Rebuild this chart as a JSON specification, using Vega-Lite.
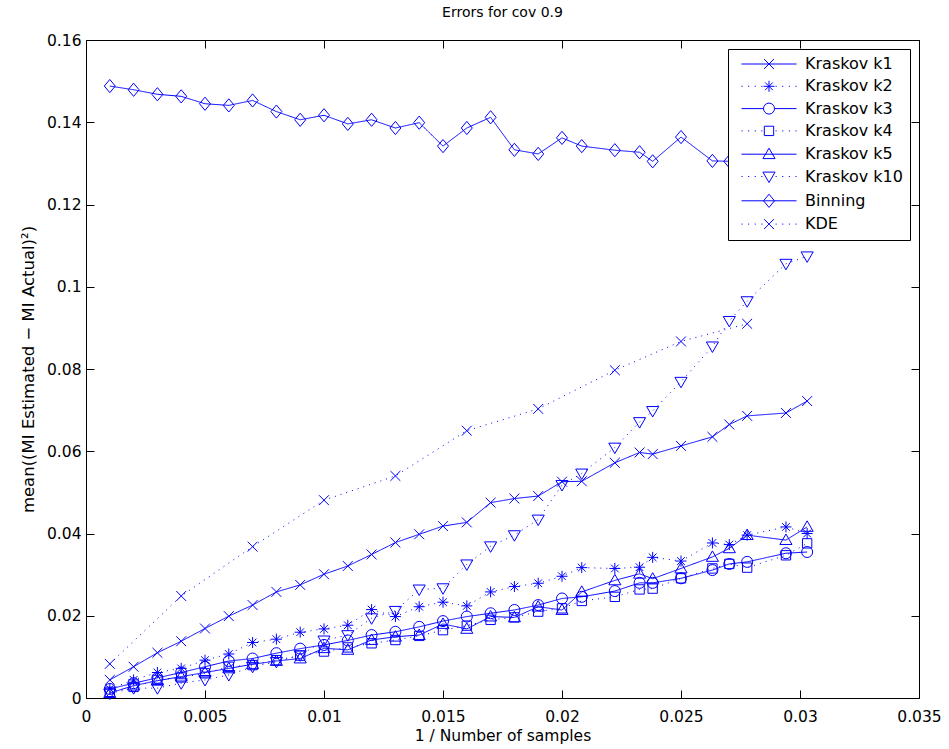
{
"$schema": "https://vega.github.io/schema/vega-lite/v6.json",
"width": 833, "height": 658,
"autosize": "none",
"padding": {"left": 86, "top": 40, "right": 30, "bottom": 51},
"background": "white",
"title": {"text": "Errors for cov 0.9", "font": "DejaVu Sans", "fontSize": 14, "fontWeight": "normal", "color": "black", "anchor": "middle", "frame": "group", "offset": 13},
"data": {"values": [
{"s":"Kraskov k1","x":0.001,"y":0.0044},{"s":"Kraskov k1","x":0.002,"y":0.0076},{"s":"Kraskov k1","x":0.003,"y":0.0110},{"s":"Kraskov k1","x":0.004,"y":0.0138},{"s":"Kraskov k1","x":0.005,"y":0.0169},{"s":"Kraskov k1","x":0.006,"y":0.0199},{"s":"Kraskov k1","x":0.007,"y":0.0226},{"s":"Kraskov k1","x":0.008,"y":0.0258},{"s":"Kraskov k1","x":0.009,"y":0.0275},{"s":"Kraskov k1","x":0.01,"y":0.0301},{"s":"Kraskov k1","x":0.011,"y":0.0321},{"s":"Kraskov k1","x":0.012,"y":0.0349},{"s":"Kraskov k1","x":0.013,"y":0.0378},{"s":"Kraskov k1","x":0.014,"y":0.0398},{"s":"Kraskov k1","x":0.015,"y":0.0418},{"s":"Kraskov k1","x":0.016,"y":0.0427},{"s":"Kraskov k1","x":0.017,"y":0.0475},{"s":"Kraskov k1","x":0.018,"y":0.0485},{"s":"Kraskov k1","x":0.019,"y":0.0491},{"s":"Kraskov k1","x":0.02,"y":0.0526},{"s":"Kraskov k1","x":0.02083,"y":0.0527},{"s":"Kraskov k1","x":0.02222,"y":0.0572},{"s":"Kraskov k1","x":0.02326,"y":0.0597},{"s":"Kraskov k1","x":0.02381,"y":0.0593},{"s":"Kraskov k1","x":0.025,"y":0.0613},{"s":"Kraskov k1","x":0.02632,"y":0.0635},{"s":"Kraskov k1","x":0.02703,"y":0.0665},{"s":"Kraskov k1","x":0.02778,"y":0.0686},{"s":"Kraskov k1","x":0.02941,"y":0.0693},{"s":"Kraskov k1","x":0.0303,"y":0.0722},
{"s":"Kraskov k2","x":0.001,"y":0.0022},{"s":"Kraskov k2","x":0.002,"y":0.0044},{"s":"Kraskov k2","x":0.003,"y":0.0062},{"s":"Kraskov k2","x":0.004,"y":0.0072},{"s":"Kraskov k2","x":0.005,"y":0.0092},{"s":"Kraskov k2","x":0.006,"y":0.0107},{"s":"Kraskov k2","x":0.007,"y":0.0135},{"s":"Kraskov k2","x":0.008,"y":0.0143},{"s":"Kraskov k2","x":0.009,"y":0.0160},{"s":"Kraskov k2","x":0.01,"y":0.0168},{"s":"Kraskov k2","x":0.011,"y":0.0177},{"s":"Kraskov k2","x":0.012,"y":0.0215},{"s":"Kraskov k2","x":0.013,"y":0.0198},{"s":"Kraskov k2","x":0.014,"y":0.0222},{"s":"Kraskov k2","x":0.015,"y":0.0233},{"s":"Kraskov k2","x":0.016,"y":0.0224},{"s":"Kraskov k2","x":0.017,"y":0.0258},{"s":"Kraskov k2","x":0.018,"y":0.0271},{"s":"Kraskov k2","x":0.019,"y":0.0279},{"s":"Kraskov k2","x":0.02,"y":0.0296},{"s":"Kraskov k2","x":0.02083,"y":0.0317},{"s":"Kraskov k2","x":0.02222,"y":0.0315},{"s":"Kraskov k2","x":0.02326,"y":0.0318},{"s":"Kraskov k2","x":0.02381,"y":0.0342},{"s":"Kraskov k2","x":0.025,"y":0.0333},{"s":"Kraskov k2","x":0.02632,"y":0.0377},{"s":"Kraskov k2","x":0.02703,"y":0.0373},{"s":"Kraskov k2","x":0.02778,"y":0.0396},{"s":"Kraskov k2","x":0.02941,"y":0.0416},{"s":"Kraskov k2","x":0.0303,"y":0.0400},
{"s":"Kraskov k3","x":0.001,"y":0.0022},{"s":"Kraskov k3","x":0.002,"y":0.0036},{"s":"Kraskov k3","x":0.003,"y":0.0049},{"s":"Kraskov k3","x":0.004,"y":0.0062},{"s":"Kraskov k3","x":0.005,"y":0.0076},{"s":"Kraskov k3","x":0.006,"y":0.0090},{"s":"Kraskov k3","x":0.007,"y":0.0096},{"s":"Kraskov k3","x":0.008,"y":0.0109},{"s":"Kraskov k3","x":0.009,"y":0.0120},{"s":"Kraskov k3","x":0.01,"y":0.0129},{"s":"Kraskov k3","x":0.011,"y":0.0140},{"s":"Kraskov k3","x":0.012,"y":0.0153},{"s":"Kraskov k3","x":0.013,"y":0.0161},{"s":"Kraskov k3","x":0.014,"y":0.0173},{"s":"Kraskov k3","x":0.015,"y":0.0187},{"s":"Kraskov k3","x":0.016,"y":0.0198},{"s":"Kraskov k3","x":0.017,"y":0.0206},{"s":"Kraskov k3","x":0.018,"y":0.0214},{"s":"Kraskov k3","x":0.019,"y":0.0226},{"s":"Kraskov k3","x":0.02,"y":0.0242},{"s":"Kraskov k3","x":0.02083,"y":0.0246},{"s":"Kraskov k3","x":0.02222,"y":0.0260},{"s":"Kraskov k3","x":0.02326,"y":0.0280},{"s":"Kraskov k3","x":0.02381,"y":0.0280},{"s":"Kraskov k3","x":0.025,"y":0.0291},{"s":"Kraskov k3","x":0.02632,"y":0.0311},{"s":"Kraskov k3","x":0.02703,"y":0.0326},{"s":"Kraskov k3","x":0.02778,"y":0.0331},{"s":"Kraskov k3","x":0.02941,"y":0.0352},{"s":"Kraskov k3","x":0.0303,"y":0.0355},
{"s":"Kraskov k4","x":0.001,"y":0.0015},{"s":"Kraskov k4","x":0.002,"y":0.0027},{"s":"Kraskov k4","x":0.003,"y":0.0044},{"s":"Kraskov k4","x":0.004,"y":0.0050},{"s":"Kraskov k4","x":0.005,"y":0.0060},{"s":"Kraskov k4","x":0.006,"y":0.0076},{"s":"Kraskov k4","x":0.007,"y":0.0080},{"s":"Kraskov k4","x":0.008,"y":0.0092},{"s":"Kraskov k4","x":0.009,"y":0.0103},{"s":"Kraskov k4","x":0.01,"y":0.0113},{"s":"Kraskov k4","x":0.011,"y":0.0123},{"s":"Kraskov k4","x":0.012,"y":0.0133},{"s":"Kraskov k4","x":0.013,"y":0.0141},{"s":"Kraskov k4","x":0.014,"y":0.0151},{"s":"Kraskov k4","x":0.015,"y":0.0165},{"s":"Kraskov k4","x":0.016,"y":0.0176},{"s":"Kraskov k4","x":0.017,"y":0.0190},{"s":"Kraskov k4","x":0.018,"y":0.0196},{"s":"Kraskov k4","x":0.019,"y":0.0210},{"s":"Kraskov k4","x":0.02,"y":0.0218},{"s":"Kraskov k4","x":0.02083,"y":0.0236},{"s":"Kraskov k4","x":0.02222,"y":0.0246},{"s":"Kraskov k4","x":0.02326,"y":0.0264},{"s":"Kraskov k4","x":0.02381,"y":0.0266},{"s":"Kraskov k4","x":0.025,"y":0.0291},{"s":"Kraskov k4","x":0.02632,"y":0.0315},{"s":"Kraskov k4","x":0.02703,"y":0.0326},{"s":"Kraskov k4","x":0.02778,"y":0.0317},{"s":"Kraskov k4","x":0.02941,"y":0.0347},{"s":"Kraskov k4","x":0.0303,"y":0.0376},
{"s":"Kraskov k5","x":0.001,"y":0.0012},{"s":"Kraskov k5","x":0.002,"y":0.0030},{"s":"Kraskov k5","x":0.003,"y":0.0042},{"s":"Kraskov k5","x":0.004,"y":0.0052},{"s":"Kraskov k5","x":0.005,"y":0.0062},{"s":"Kraskov k5","x":0.006,"y":0.0072},{"s":"Kraskov k5","x":0.007,"y":0.0082},{"s":"Kraskov k5","x":0.008,"y":0.0090},{"s":"Kraskov k5","x":0.009,"y":0.0096},{"s":"Kraskov k5","x":0.01,"y":0.0121},{"s":"Kraskov k5","x":0.011,"y":0.0117},{"s":"Kraskov k5","x":0.012,"y":0.0141},{"s":"Kraskov k5","x":0.013,"y":0.0149},{"s":"Kraskov k5","x":0.014,"y":0.0153},{"s":"Kraskov k5","x":0.015,"y":0.0180},{"s":"Kraskov k5","x":0.016,"y":0.0168},{"s":"Kraskov k5","x":0.017,"y":0.0198},{"s":"Kraskov k5","x":0.018,"y":0.0196},{"s":"Kraskov k5","x":0.019,"y":0.0222},{"s":"Kraskov k5","x":0.02,"y":0.0214},{"s":"Kraskov k5","x":0.02083,"y":0.0258},{"s":"Kraskov k5","x":0.02222,"y":0.0286},{"s":"Kraskov k5","x":0.02326,"y":0.0302},{"s":"Kraskov k5","x":0.02381,"y":0.0290},{"s":"Kraskov k5","x":0.025,"y":0.0315},{"s":"Kraskov k5","x":0.02632,"y":0.0343},{"s":"Kraskov k5","x":0.02703,"y":0.0364},{"s":"Kraskov k5","x":0.02778,"y":0.0396},{"s":"Kraskov k5","x":0.02941,"y":0.0384},{"s":"Kraskov k5","x":0.0303,"y":0.0416},
{"s":"Kraskov k10","x":0.001,"y":0.0011},{"s":"Kraskov k10","x":0.002,"y":0.0024},{"s":"Kraskov k10","x":0.003,"y":0.0024},{"s":"Kraskov k10","x":0.004,"y":0.0036},{"s":"Kraskov k10","x":0.005,"y":0.0044},{"s":"Kraskov k10","x":0.006,"y":0.0056},{"s":"Kraskov k10","x":0.007,"y":0.0076},{"s":"Kraskov k10","x":0.008,"y":0.0088},{"s":"Kraskov k10","x":0.009,"y":0.0104},{"s":"Kraskov k10","x":0.01,"y":0.0140},{"s":"Kraskov k10","x":0.011,"y":0.0153},{"s":"Kraskov k10","x":0.012,"y":0.0194},{"s":"Kraskov k10","x":0.013,"y":0.0212},{"s":"Kraskov k10","x":0.014,"y":0.0264},{"s":"Kraskov k10","x":0.015,"y":0.0267},{"s":"Kraskov k10","x":0.016,"y":0.0325},{"s":"Kraskov k10","x":0.017,"y":0.0369},{"s":"Kraskov k10","x":0.018,"y":0.0396},{"s":"Kraskov k10","x":0.019,"y":0.0434},{"s":"Kraskov k10","x":0.02,"y":0.0518},{"s":"Kraskov k10","x":0.02083,"y":0.0546},{"s":"Kraskov k10","x":0.02222,"y":0.0609},{"s":"Kraskov k10","x":0.02326,"y":0.0671},{"s":"Kraskov k10","x":0.02381,"y":0.0698},{"s":"Kraskov k10","x":0.025,"y":0.0769},{"s":"Kraskov k10","x":0.02632,"y":0.0855},{"s":"Kraskov k10","x":0.02703,"y":0.0917},{"s":"Kraskov k10","x":0.02778,"y":0.0965},{"s":"Kraskov k10","x":0.02941,"y":0.1056},{"s":"Kraskov k10","x":0.0303,"y":0.1074},
{"s":"Binning","x":0.001,"y":0.1488},{"s":"Binning","x":0.002,"y":0.1479},{"s":"Binning","x":0.003,"y":0.1468},{"s":"Binning","x":0.004,"y":0.1463},{"s":"Binning","x":0.005,"y":0.1445},{"s":"Binning","x":0.006,"y":0.1441},{"s":"Binning","x":0.007,"y":0.1453},{"s":"Binning","x":0.008,"y":0.1426},{"s":"Binning","x":0.009,"y":0.1406},{"s":"Binning","x":0.01,"y":0.1417},{"s":"Binning","x":0.011,"y":0.1396},{"s":"Binning","x":0.012,"y":0.1406},{"s":"Binning","x":0.013,"y":0.1386},{"s":"Binning","x":0.014,"y":0.1399},{"s":"Binning","x":0.015,"y":0.1342},{"s":"Binning","x":0.016,"y":0.1386},{"s":"Binning","x":0.017,"y":0.1412},{"s":"Binning","x":0.018,"y":0.1333},{"s":"Binning","x":0.019,"y":0.1323},{"s":"Binning","x":0.02,"y":0.1362},{"s":"Binning","x":0.02083,"y":0.1342},{"s":"Binning","x":0.02222,"y":0.1332},{"s":"Binning","x":0.02326,"y":0.1327},{"s":"Binning","x":0.02381,"y":0.1305},{"s":"Binning","x":0.025,"y":0.1364},{"s":"Binning","x":0.02632,"y":0.1306},{"s":"Binning","x":0.02703,"y":0.1305},{"s":"Binning","x":0.02778,"y":0.1300},{"s":"Binning","x":0.02941,"y":0.1295},{"s":"Binning","x":0.0303,"y":0.1290},
{"s":"KDE","x":0.001,"y":0.0083},{"s":"KDE","x":0.004,"y":0.0248},{"s":"KDE","x":0.007,"y":0.0368},{"s":"KDE","x":0.01,"y":0.0481},{"s":"KDE","x":0.013,"y":0.0540},{"s":"KDE","x":0.016,"y":0.0650},{"s":"KDE","x":0.019,"y":0.0703},{"s":"KDE","x":0.02222,"y":0.0797},{"s":"KDE","x":0.025,"y":0.0867},{"s":"KDE","x":0.02778,"y":0.0910}
]},
"layer": [
{
"mark": {"type": "line", "color": "#0000ff", "strokeWidth": 1},
"encoding": {
"x": {"field": "x", "type": "quantitative", "scale": {"domain": [0, 0.035], "nice": false, "zero": false},
 "axis": {"orient": "bottom", "values": [0,0.005,0.01,0.015,0.02,0.025,0.03,0.035], "format": "~g", "tickSize": -8, "labelPadding": 19, "title": "1 / Number of samples", "titlePadding": 4}},
"y": {"field": "y", "type": "quantitative", "scale": {"domain": [0, 0.16], "nice": false, "zero": false},
 "axis": {"orient": "left", "values": [0,0.02,0.04,0.06,0.08,0.1,0.12,0.14,0.16], "format": "~g", "tickSize": -8, "labelPadding": 13, "title": "mean((MI Estimated − MI Actual)²)", "titleFontSize": 16.5, "titlePadding": 10}},
"detail": {"field": "s", "type": "nominal"},
"strokeDash": {"field": "s", "type": "nominal", "legend": null,
 "scale": {"domain": ["Kraskov k1","Kraskov k2","Kraskov k3","Kraskov k4","Kraskov k5","Kraskov k10","Binning","KDE"],
 "range": [[1,0],[1,5],[1,0],[1,5],[1,0],[1,5],[1,0],[1,5]]}}
}
},
{
"mark": {"type": "point", "filled": false, "color": "#0000ff", "strokeWidth": 1, "size": 121, "opacity": 1},
"encoding": {
"x": {"field": "x", "type": "quantitative", "axis": null},
"y": {"field": "y", "type": "quantitative", "axis": null},
"shape": {"field": "s", "type": "nominal", "legend": null,
 "scale": {"domain": ["Kraskov k1","Kraskov k2","Kraskov k3","Kraskov k4","Kraskov k5","Kraskov k10","Binning","KDE"],
 "range": [
  "M-0.9,-0.9L0.9,0.9M-0.9,0.9L0.9,-0.9",
  "M0,-1L0,1M-1,0L1,0M-0.7,-0.7L0.7,0.7M-0.7,0.7L0.7,-0.7",
  "circle",
  "M-0.85,-0.85L0.85,-0.85L0.85,0.85L-0.85,0.85Z",
  "M0,-1.1L1.1,0.8L-1.1,0.8Z",
  "M0,1.1L1.1,-0.8L-1.1,-0.8Z",
  "M0,-1.2L1,0L0,1.2L-1,0Z",
  "M-0.9,-0.9L0.9,0.9M-0.9,0.9L0.9,-0.9"
 ]}}
}
},
{
"mark": {"type": "point", "opacity": 0},
"encoding": {
"x": {"field": "x", "type": "quantitative", "axis": {"orient": "top", "values": [0,0.005,0.01,0.015,0.02,0.025,0.03,0.035], "labels": false, "title": null, "tickSize": -8}},
"y": {"field": "y", "type": "quantitative", "axis": {"orient": "right", "values": [0,0.02,0.04,0.06,0.08,0.1,0.12,0.14,0.16], "labels": false, "title": null, "tickSize": -8}}
}
},
{
"transform": [{"filter": "false"}],
"mark": {"type": "point", "filled": false, "color": "#0000ff", "strokeWidth": 1, "opacity": 1},
"encoding": {
"x": {"field": "x", "type": "quantitative", "axis": null},
"y": {"field": "y", "type": "quantitative", "axis": null},
"shape": {"field": "s", "type": "nominal",
 "scale": {"domain": ["Kraskov k1","Kraskov k2","Kraskov k3","Kraskov k4","Kraskov k5","Kraskov k10","Binning","KDE"],
 "range": [
  "M-5,0L5,0M-0.9,-0.9L0.9,0.9M-0.9,0.9L0.9,-0.9",
  "M-5,0L-4.8,0M-3.8,0L-3.6,0M-2.6,0L-2.4,0M-1.4,0L-1.2,0M1.2,0L1.4,0M2.4,0L2.6,0M3.6,0L3.8,0M4.8,0L5,0M0,-1L0,1M-1,0L1,0M-0.7,-0.7L0.7,0.7M-0.7,0.7L0.7,-0.7",
  "M-5,0L-1,0M1,0L5,0M1,0A1,1 0 1,1 -1,0A1,1 0 1,1 1,0Z",
  "M-5,0L-4.8,0M-3.8,0L-3.6,0M-2.6,0L-2.4,0M-1.4,0L-1.2,0M1.2,0L1.4,0M2.4,0L2.6,0M3.6,0L3.8,0M4.8,0L5,0M-0.85,-0.85L0.85,-0.85L0.85,0.85L-0.85,0.85Z",
  "M-5,0L5,0M0,-1.1L1.1,0.8L-1.1,0.8Z",
  "M-5,0L-4.8,0M-3.8,0L-3.6,0M-2.6,0L-2.4,0M-1.4,0L-1.2,0M1.2,0L1.4,0M2.4,0L2.6,0M3.6,0L3.8,0M4.8,0L5,0M0,1.1L1.1,-0.8L-1.1,-0.8Z",
  "M-5,0L5,0M0,-1.2L1,0L0,1.2L-1,0Z",
  "M-5,0L-4.8,0M-3.8,0L-3.6,0M-2.6,0L-2.4,0M-1.4,0L-1.2,0M1.2,0L1.4,0M2.4,0L2.6,0M3.6,0L3.8,0M4.8,0L5,0M-0.9,-0.9L0.9,0.9M-0.9,0.9L0.9,-0.9"
 ]},
 "legend": {"title": null, "orient": "top-right", "offset": 9, "padding": 7, "fillColor": "white", "strokeColor": "black",
  "labelFont": "DejaVu Sans", "labelFontSize": 16, "labelColor": "black", "symbolSize": 121, "symbolStrokeWidth": 1,
  "symbolOffset": 26, "labelOffset": 28, "rowPadding": 6.3}}
}
}
],
"resolve": {"scale": {"shape": "independent"}, "axis": {"x": "independent", "y": "independent"}},
"config": {
"view": {"stroke": null},
"axis": {"grid": false, "domainColor": "black", "domainWidth": 1, "tickColor": "black", "tickWidth": 1,
 "labelColor": "black", "labelFont": "DejaVu Sans", "labelFontSize": 15.5, "labelFlush": false, "labelOverlap": false,
 "titleColor": "black", "titleFont": "DejaVu Sans", "titleFontSize": 15.5, "titleFontWeight": "normal"}
}
}
